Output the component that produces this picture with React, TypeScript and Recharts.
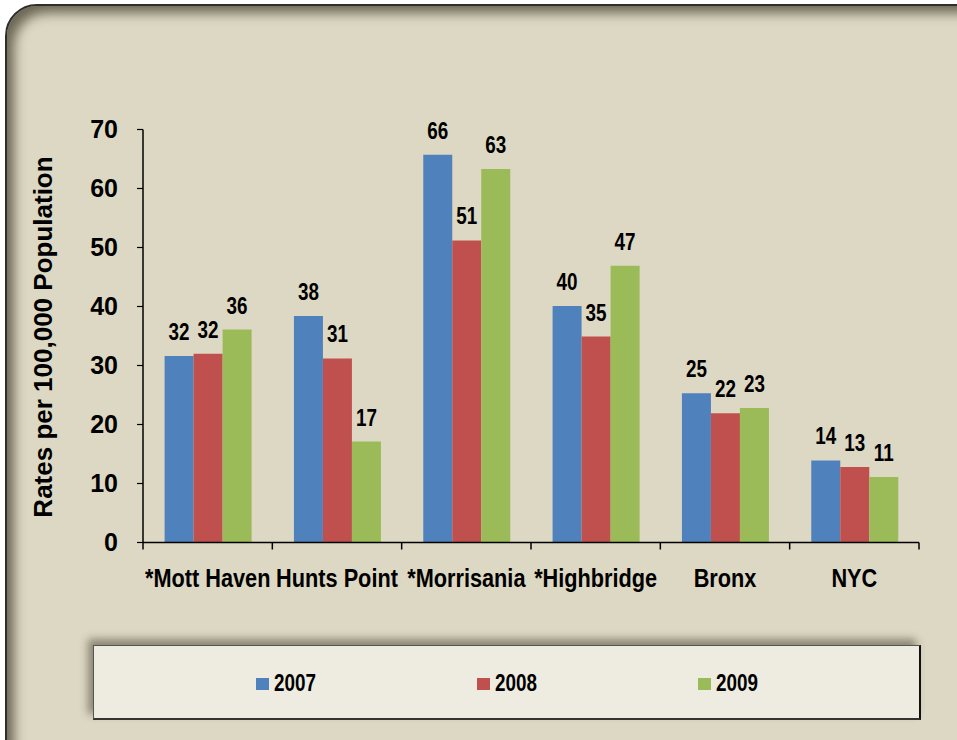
import React from 'react';
import { BarChart, Bar, XAxis, YAxis, LabelList, Label } from 'recharts';

// ── Data ──────────────────────────────────────────────────────────────────
const CATEGORIES = ['*Mott Haven', 'Hunts Point', '*Morrisania', '*Highbridge', 'Bronx', 'NYC'];
const RATES_2007 = [31.6, 38.4, 65.7, 40.1, 25.3, 13.9];
const RATES_2008 = [32.0, 31.2, 51.2, 34.9, 21.9, 12.8];
const RATES_2009 = [36.1, 17.1, 63.3, 46.9, 22.8, 11.1];
const YEARS = ['2007', '2008', '2009'];
const Y_TICKS = [0, 10, 20, 30, 40, 50, 60, 70];

const COLORS = ['#4f81bd', '#c0504d', '#9bbb59'];
const SERIES = [RATES_2007, RATES_2008, RATES_2009];

const rows = CATEGORIES.map((name, i) => {
  const row: Record<string, string | number> = { name };
  YEARS.forEach((y, s) => {
    row[y] = SERIES[s][i];
  });
  return row;
});

// ── Layout ────────────────────────────────────────────────────────────────
const W = 957;
const H = 740;
const PLOT_LEFT = 143;
const PLOT_RIGHT = 919;
const PLOT_TOP = 129.5;
const PLOT_BOTTOM = 542.5;
const X_AXIS_H = 60;
const BAND = (PLOT_RIGHT - PLOT_LEFT) / CATEGORIES.length;

// No Arial Narrow installed: squeeze the regular bold face horizontally instead
const FONT = "'Liberation Sans', Arial, sans-serif";
const NARROW_SCALE = 0.82;

function NarrowText({ x, y, size, children }: { x: number; y: number; size: number; children: React.ReactNode }) {
  return (
    <text
      transform={`translate(${x}, ${y}) scale(${NARROW_SCALE}, 1)`}
      x={0}
      y={0}
      textAnchor="middle"
      fill="#000"
      fontFamily={FONT}
      fontWeight="bold"
      fontSize={size}
    >
      {children}
    </text>
  );
}

function CategoryTick(props: any) {
  const { x, y, payload, index } = props;
  const axisY = y - 8; // tickSize 6 + tickMargin 2
  const last = index === CATEGORIES.length - 1;
  return (
    <g>
      <line x1={x - BAND / 2} x2={x - BAND / 2} y1={axisY} y2={axisY + 7} stroke="#000" strokeWidth={1.5} />
      {last && (
        <line x1={x + BAND / 2} x2={x + BAND / 2} y1={axisY} y2={axisY + 7} stroke="#000" strokeWidth={1.5} />
      )}
      <NarrowText x={x} y={axisY + 44} size={26.5}>
        {payload.value}
      </NarrowText>
    </g>
  );
}

function ValueLabel(props: any) {
  const { x, y, width, value } = props;
  return (
    <NarrowText x={x + width / 2} y={y - 16} size={23}>
      {Math.round(value)}
    </NarrowText>
  );
}

function AxisTitle(props: any) {
  const { viewBox } = props;
  const cx = 43;
  const cy = viewBox.y + viewBox.height / 2 + 1;
  return (
    <text
      x={cx}
      y={cy}
      transform={`rotate(-90, ${cx}, ${cy})`}
      textAnchor="middle"
      dominantBaseline="central"
      fill="#000"
      fontFamily={FONT}
      fontWeight="bold"
      fontSize={26}
    >
      Rates per 100,000 Population
    </text>
  );
}

function LegendBox() {
  return (
    <div
      style={{
        position: 'absolute',
        left: 93,
        top: 645,
        width: 828,
        height: 75,
        boxSizing: 'border-box',
        background: '#eeebe0',
        borderTop: '1px solid #555',
        borderLeft: '1px solid #555',
        borderRight: '2px solid #111',
        borderBottom: '2px solid #333',
        boxShadow: '-5px -6px 8px rgba(40,36,20,0.45)',
        display: 'flex',
        alignItems: 'center',
        paddingLeft: 162,
        paddingTop: 3,
      }}
    >
      {YEARS.map((y, i) => (
        <div key={y} style={{ width: 224, display: 'flex', alignItems: 'center' }}>
          <span style={{ width: 13, height: 12, background: COLORS[i], marginRight: 5, display: 'inline-block' }} />
          <span
            style={{
              fontFamily: FONT,
              fontWeight: 'bold',
              fontSize: 23,
              color: '#000',
              lineHeight: 1,
              display: 'inline-block',
              transform: `scaleX(${NARROW_SCALE})`,
              transformOrigin: 'left center',
            }}
          >
            {y}
          </span>
        </div>
      ))}
    </div>
  );
}

export default function App() {
  return (
    <div style={{ position: 'absolute', left: 0, top: 0, width: W, height: H, overflow: 'hidden', background: '#fff' }}>
      <div
        style={{
          position: 'absolute',
          left: 5,
          top: 4,
          width: 1000,
          height: 770,
          boxSizing: 'border-box',
          borderRadius: 32,
          border: '2px solid #2e2e2a',
          background: '#ddd8c3',
          boxShadow: 'inset 10px 10px 12px -3px rgba(70,66,48,0.75)',
        }}
      />
      <div style={{ position: 'absolute', left: 0, top: 0 }}>
        <BarChart
          width={W}
          height={H}
          data={rows}
          margin={{ top: PLOT_TOP, right: W - PLOT_RIGHT, bottom: H - PLOT_BOTTOM - X_AXIS_H, left: 0 }}
          barCategoryGap="16.7%"
          barGap={0}
        >
          <XAxis
            dataKey="name"
            height={X_AXIS_H}
            axisLine={{ stroke: '#000', strokeWidth: 1.5 }}
            tickLine={false}
            tickSize={6}
            tickMargin={2}
            interval={0}
            tick={<CategoryTick />}
          />
          <YAxis
            width={PLOT_LEFT}
            domain={[0, 70]}
            ticks={Y_TICKS}
            interval={0}
            axisLine={{ stroke: '#000', strokeWidth: 1.5 }}
            tickLine={{ stroke: '#000', strokeWidth: 1.2 }}
            tickSize={6}
            tickMargin={19}
            tick={{ fill: '#000', fontSize: 25, fontWeight: 'bold', fontFamily: FONT }}
          >
            <Label content={<AxisTitle />} />
          </YAxis>
          {YEARS.map((y, i) => (
            <Bar key={y} dataKey={y} fill={COLORS[i]} isAnimationActive={false}>
              <LabelList dataKey={y} content={<ValueLabel />} />
            </Bar>
          ))}
        </BarChart>
      </div>
      <LegendBox />
    </div>
  );
}
